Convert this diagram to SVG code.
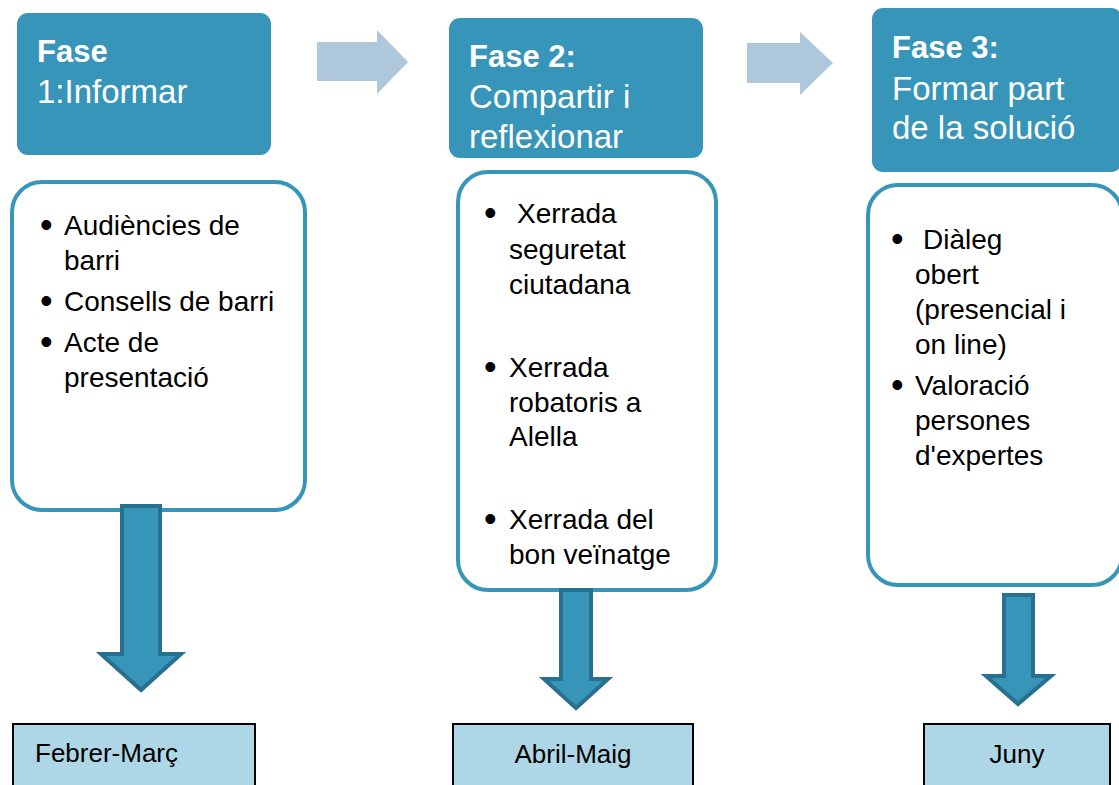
<svg xmlns="http://www.w3.org/2000/svg" width="1119" height="785" viewBox="0 0 1119 785">
<style>
.hdr{fill:#3795BA}
.hb{font-family:"Liberation Sans",Arial,sans-serif;font-size:31px;font-weight:bold;fill:#ffffff}
.hr{font-family:"Liberation Sans",Arial,sans-serif;font-size:33px;fill:#ffffff}
.body{fill:#ffffff;stroke:#3795BA;stroke-width:4}
.bt{font-family:"Liberation Sans",Arial,sans-serif;font-size:28px;fill:#000000}
.bu{font-family:"Liberation Sans",Arial,sans-serif;font-size:36px;fill:#000000}
.flow{fill:#AFC7DA}
.down{fill:#3795BA;stroke:#27708F;stroke-width:4;stroke-linejoin:miter}
.date{fill:#ADD6E6;stroke:#000000;stroke-width:2}
.dt{font-family:"Liberation Sans",Arial,sans-serif;font-size:26px;fill:#000000}
</style>
<rect width="1119" height="785" fill="#ffffff"/>

<g id="connectors">
  <path class="flow" d="M317,42 H377 V30 L408,62 L377,94 V81 H317 Z"/>
  <path class="flow" d="M747,43 H800 V32 L833,63 L800,95 V83 H747 Z"/>
</g>

<g id="phase1">
  <rect class="hdr" x="17" y="13" width="254" height="142" rx="11"/>
  <text class="hb" x="37" y="62">Fase</text>
  <text class="hr" x="37" y="103">1:Informar</text>
</g>
<g id="phase2">
  <rect class="hdr" x="449" y="18" width="254" height="140" rx="11"/>
  <text class="hb" x="469" y="67">Fase 2:</text>
  <text class="hr" x="469" y="108">Compartir i</text>
  <text class="hr" x="469" y="148">reflexionar</text>
</g>
<g id="phase3">
  <rect class="hdr" x="872" y="8" width="250" height="164" rx="11"/>
  <text class="hb" x="892" y="58">Fase 3:</text>
  <text class="hr" x="892" y="100">Formar part</text>
  <text class="hr" x="892" y="139">de la solució</text>
</g>

<g id="activities1">
  <rect class="body" x="12" y="182" width="293" height="328" rx="30"/>
  <g class="bu">
    <text x="40" y="237">•</text>
    <text x="40" y="313">•</text>
    <text x="40" y="354">•</text>
  </g>
  <g class="bt">
    <text x="64" y="235">Audiències de</text>
    <text x="64" y="270">barri</text>
    <text x="64" y="311">Consells de barri</text>
    <text x="64" y="352">Acte de</text>
    <text x="64" y="387">presentació</text>
  </g>
</g>
<g id="activities2">
  <rect class="body" x="458" y="172" width="258" height="418" rx="30"/>
  <g class="bu">
    <text x="484" y="225">•</text>
    <text x="484" y="379">•</text>
    <text x="484" y="531">•</text>
  </g>
  <g class="bt">
    <text x="517" y="223">Xerrada</text>
    <text x="509" y="259">seguretat</text>
    <text x="509" y="294">ciutadana</text>
    <text x="509" y="377">Xerrada</text>
    <text x="509" y="412">robatoris a</text>
    <text x="509" y="446">Alella</text>
    <text x="509" y="529">Xerrada del</text>
    <text x="509" y="564">bon veïnatge</text>
  </g>
</g>
<g id="activities3">
  <rect class="body" x="868" y="185" width="254" height="400" rx="30"/>
  <g class="bu">
    <text x="891" y="251">•</text>
    <text x="891" y="397">•</text>
  </g>
  <g class="bt">
    <text x="923" y="249">Diàleg</text>
    <text x="915" y="284">obert</text>
    <text x="915" y="319">(presencial i</text>
    <text x="915" y="354">on line)</text>
    <text x="915" y="395">Valoració</text>
    <text x="915" y="430">persones</text>
    <text x="915" y="465">d'expertes</text>
  </g>
</g>

<g id="arrows-down">
  <path class="down" d="M122,506 H160 V654 H181 L141,690 L101,654 H122 Z"/>
  <path class="down" d="M561,590 H591 V679 H608 L576,708 L544,679 H561 Z"/>
  <path class="down" d="M1004,595 H1033 V676 H1051 L1018,704 L986,676 H1004 Z"/>
</g>

<g id="date1">
  <rect class="date" x="13" y="724" width="242" height="70"/>
  <text class="dt" x="35" y="762">Febrer-Març</text>
</g>
<g id="date2">
  <rect class="date" x="453" y="724" width="240" height="70"/>
  <text class="dt" x="573" y="763" text-anchor="middle">Abril-Maig</text>
</g>
<g id="date3">
  <rect class="date" x="924" y="724" width="186" height="70"/>
  <text class="dt" x="1017" y="763" text-anchor="middle">Juny</text>
</g>
</svg>
